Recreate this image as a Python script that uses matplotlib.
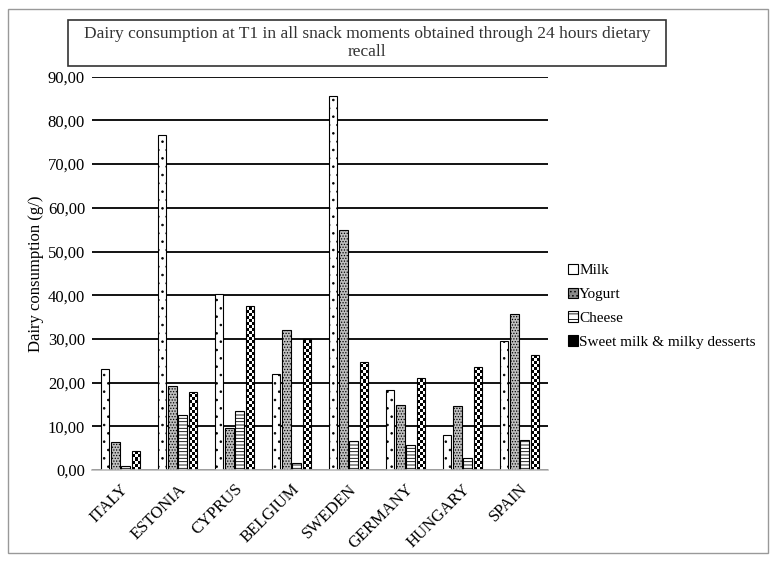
import numpy as np
import matplotlib
matplotlib.use("Agg")
import matplotlib.pyplot as plt
import matplotlib.patches as mpatches

plt.rcParams["font.family"] = ["Liberation Serif", "DejaVu Serif"]
plt.rcParams["hatch.linewidth"] = 0.6

COUNTRIES = ["ITALY", "ESTONIA", "CYPRUS", "BELGIUM", "SWEDEN", "GERMANY", "HUNGARY", "SPAIN"]
MILK = [23.2, 76.7, 40.2, 22.0, 85.7, 18.3, 7.9, 29.5]
YOGURT = [6.5, 19.2, 9.5, 32.0, 54.9, 14.9, 14.6, 35.6]
CHEESE = [1.0, 12.5, 13.5, 1.5, 6.7, 5.7, 2.8, 6.9]
SWEET = [4.4, 17.8, 37.6, 29.9, 24.7, 21.0, 23.5, 26.4]
SERIES = ["Milk", "Yogurt", "Cheese", "Sweet milk & milky desserts"]
YTICKS = np.arange(0, 91, 10)

TITLE = "Dairy consumption at T1 in all snack moments obtained through 24 hours dietary\nrecall"

fig = plt.figure(figsize=(7.76, 5.62), dpi=100)
ax = fig.add_axes([0.1186, 0.1637, 0.5876, 0.6998])

x = np.arange(len(COUNTRIES))
pitch = 0.182
width = 0.15

styles = [
    dict(facecolor="white", hatch=".."),
    dict(facecolor="#c0c0c0", hatch="......"),
    dict(facecolor="white", hatch="-----"),
    dict(facecolor="none", hatch=None),
]
values = [MILK, YOGURT, CHEESE, SWEET]

containers = []
for i, (vals, st) in enumerate(zip(values, styles)):
    bars = ax.bar(x + (i - 1.5) * pitch, vals, width, edgecolor="black",
                  linewidth=0.8, zorder=4, label=SERIES[i], **st)
    containers.append(bars)

# checkerboard texture under the sweet milk bar outlines
sq_y = 0.69
for rect in containers[3]:
    x0, w, h = rect.get_x(), rect.get_width(), rect.get_height()
    nrows = max(1, int(round(h / sq_y)))
    board = (np.add.outer(np.arange(nrows), np.arange(3)) % 2).astype(float)
    clip = mpatches.Rectangle((x0, 0), w, h, transform=ax.transData)
    im = ax.imshow(board, cmap="gray", interpolation="nearest", aspect="auto",
                   extent=(x0, x0 + w, 0, nrows * sq_y), origin="lower", zorder=3)
    im.set_clip_path(clip)

ax.set_xlim(-0.5, len(COUNTRIES) - 0.5)
ax.set_ylim(0, 90)
ax.set_yticks(YTICKS)
ax.set_yticklabels([f"{v:.2f}".replace(".", ",") for v in YTICKS], fontsize=12)
ax.set_xticks(x)
ax.set_xticklabels(COUNTRIES, rotation=45, ha="right", rotation_mode="anchor", fontsize=12)
ax.tick_params(axis="both", length=0, pad=5)
ax.tick_params(axis="x", pad=8)
ax.yaxis.grid(True, color="black", linewidth=1.3, zorder=0)
ax.set_axisbelow(True)
for s in ["top", "right", "left"]:
    ax.spines[s].set_visible(False)
ax.spines["bottom"].set_color("#bbbbbb")
ax.spines["bottom"].set_linewidth(1.2)
ax.spines["bottom"].set_zorder(5)
ax.set_ylabel("Dairy consumption (g/)", fontsize=12, labelpad=3)

handles = [
    mpatches.Patch(facecolor="white", edgecolor="black", linewidth=0.8),
    mpatches.Patch(facecolor="#8a8a8a", edgecolor="black", linewidth=0.8, hatch="...."),
    mpatches.Patch(facecolor="white", edgecolor="black", linewidth=0.8, hatch="---"),
    mpatches.Patch(facecolor="black", edgecolor="black", linewidth=0.8),
]
fig.legend(handles, SERIES, loc="center left", bbox_to_anchor=(0.7315, 0.455),
           frameon=False, fontsize=11, handlelength=0.65, handleheight=0.65,
           handletextpad=0.1, labelspacing=0.68, borderaxespad=0, borderpad=0)

# title box
fig.patches.append(mpatches.Rectangle((68 / 776, 1 - 66 / 562), (666 - 68) / 776, 46 / 562,
                                      transform=fig.transFigure, fill=False,
                                      edgecolor="#333333", linewidth=1.2))
fig.text(367 / 776, 1 - 43 / 562, TITLE, ha="center", va="center", fontsize=12.5,
         color="#333333", linespacing=1.15)

# outer frame
fig.patches.append(mpatches.Rectangle((8 / 776, 9 / 562), 760 / 776, 544 / 562,
                                      transform=fig.transFigure, fill=False,
                                      edgecolor="#999999", linewidth=1.0))

fig.savefig("out.png", dpi=100)
